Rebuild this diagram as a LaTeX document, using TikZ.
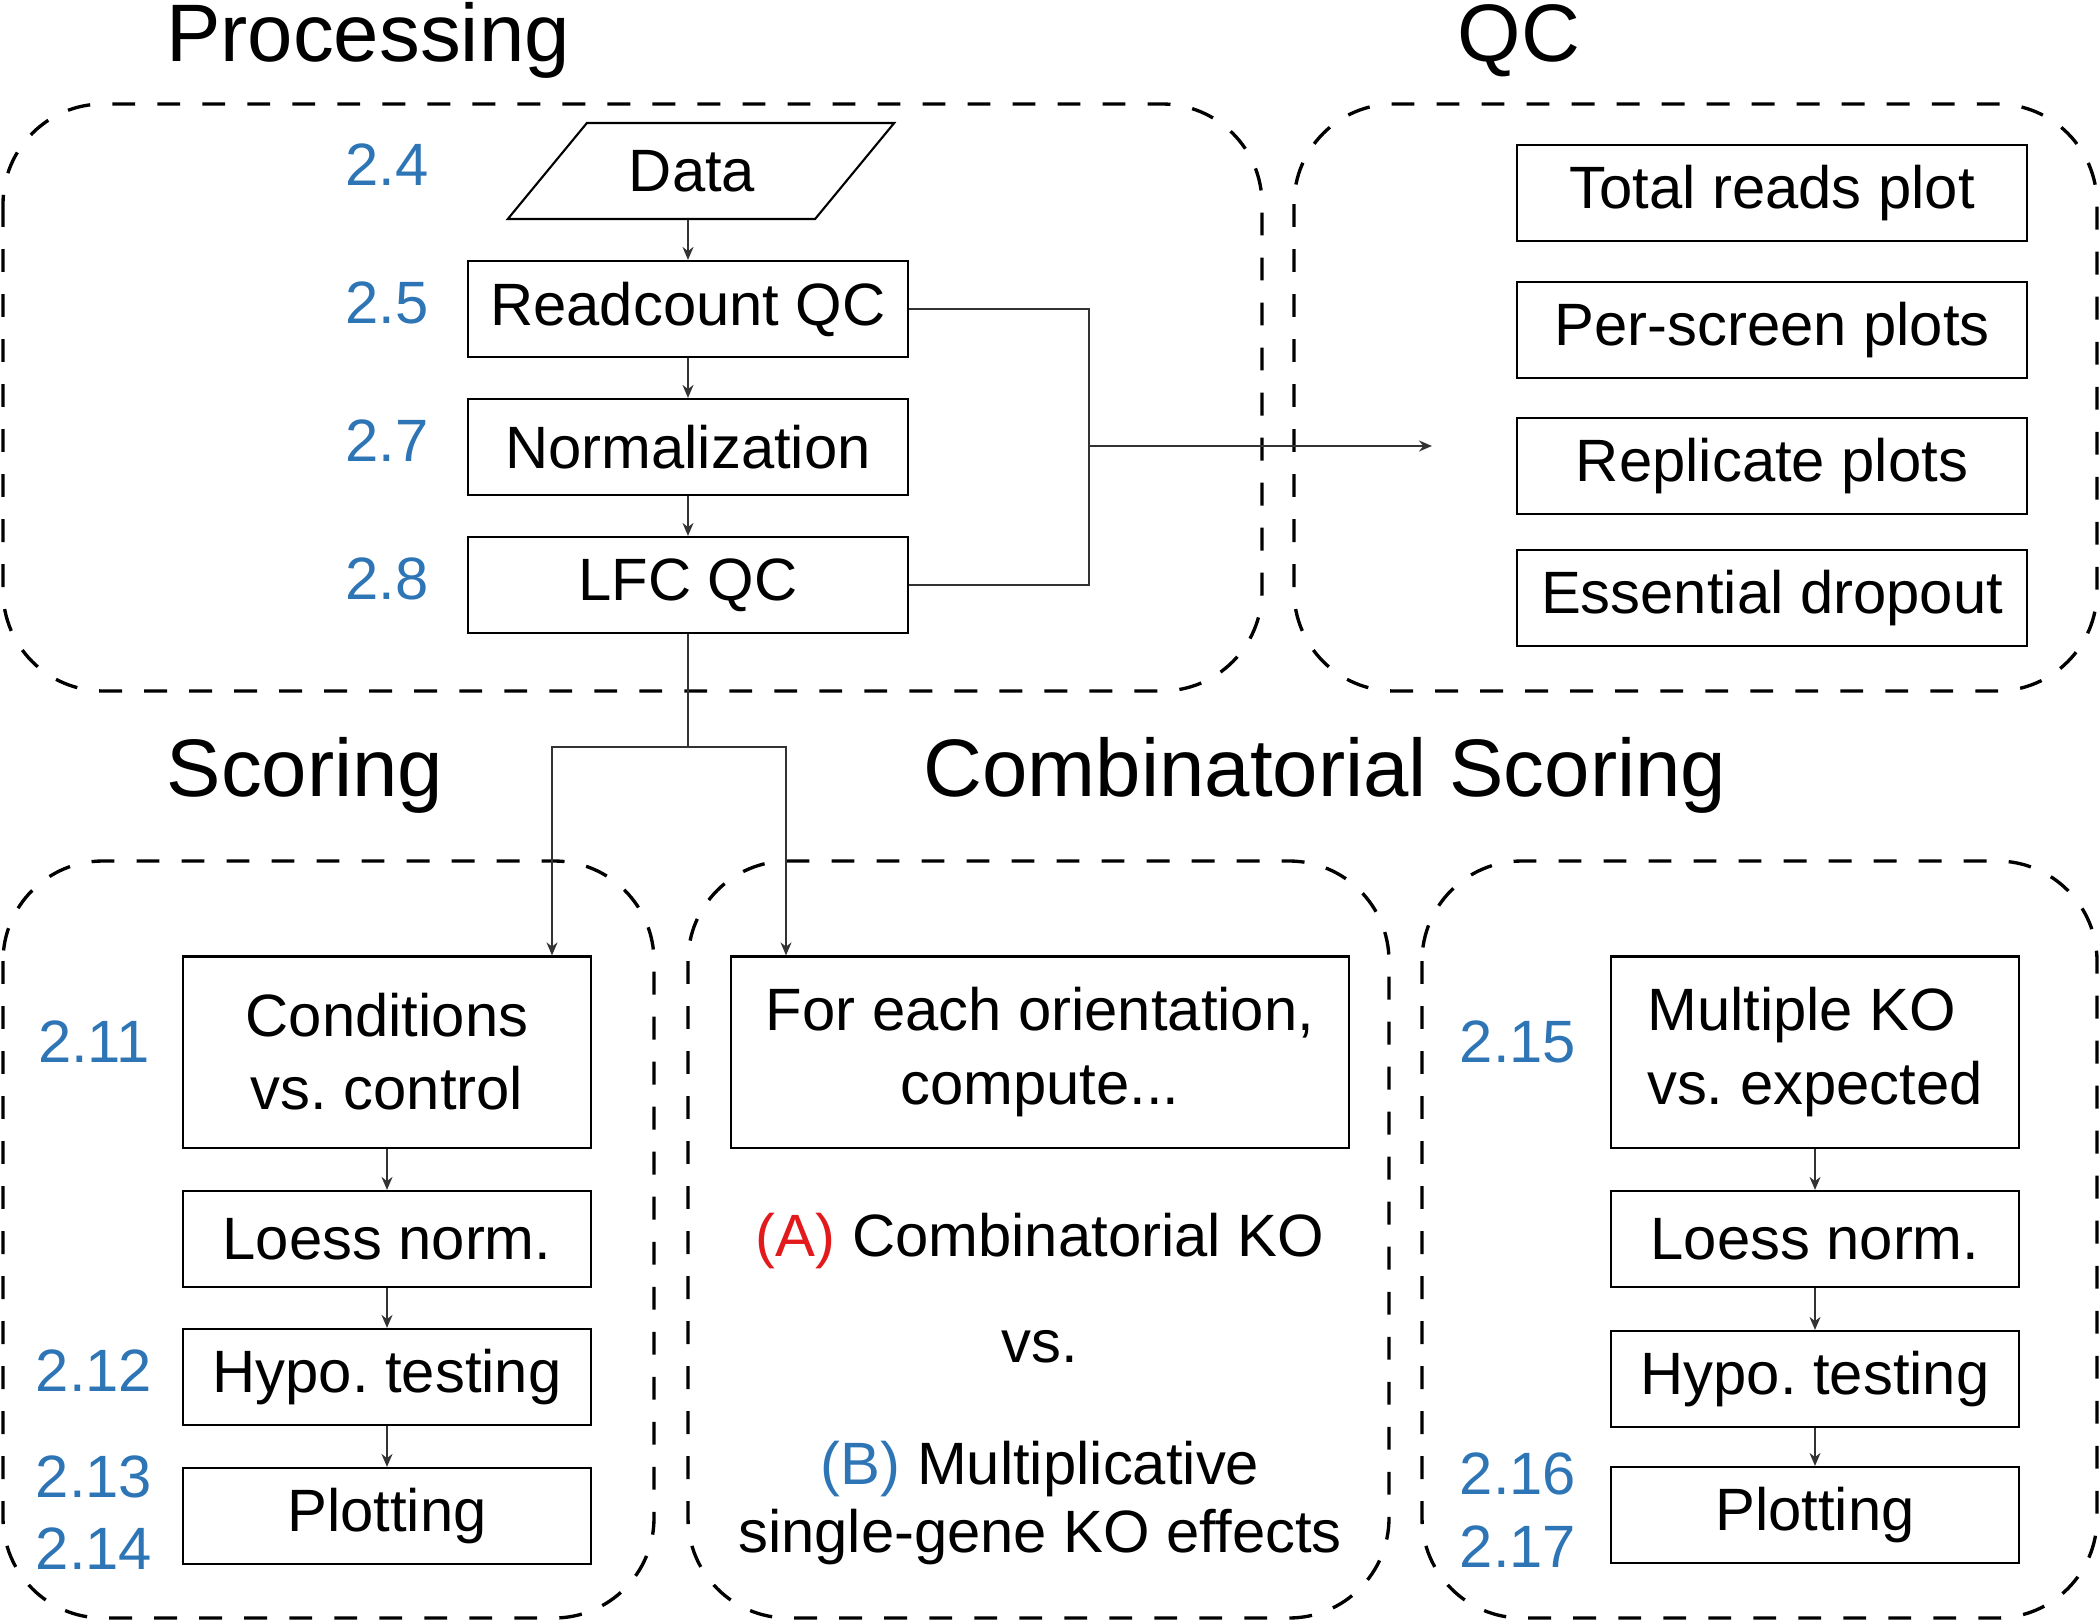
\documentclass[tikz,border=0pt]{standalone}
\usepackage{fontspec}
\setmainfont{Liberation Sans}
\usetikzlibrary{shapes.geometric,arrows.meta}
\definecolor{secblue}{HTML}{2E75B6}
\definecolor{labred}{HTML}{E31A1C}
\definecolor{wiregray}{HTML}{333333}

\begin{document}
\frenchspacing
\begin{tikzpicture}[x=0.01cm, y=-0.01cm,
  grp/.style={line width=0.95pt, dash pattern=on 6.5pt off 6.3pt, rounded corners=1cm},
  box/.style={draw, line width=0.6pt, minimum height=0.96cm, inner sep=0pt,
    font=\fontsize{17}{20.8}\selectfont},
  num/.style={text=secblue, inner sep=0pt, font=\fontsize{17}{20.8}\selectfont},
  txt/.style={inner sep=0pt, font=\fontsize{17}{20.8}\selectfont},
  title/.style={inner sep=0pt, font=\fontsize{23.2}{28}\selectfont},
  flow/.style={draw=wiregray, line width=0.45pt, -{Stealth[length=1.3mm,width=1.1mm]}},
  wire/.style={draw=wiregray, line width=0.45pt}]
\useasboundingbox (0,0) rectangle (2100,1622);

% dashed group frames
\draw [grp] (3,104) rectangle (1262,691);
\draw [grp] (1294,104) rectangle (2097,691);
\draw [grp] (3,861) rectangle (654,1618);
\draw [grp] (688,861) rectangle (1389,1618);
\draw [grp] (1422,861) rectangle (2097,1618);

% titles
\node [title, anchor=base] (tproc) at (368,62) {Processing};
\node [title, anchor=base] (tqc) at (1519,62) {QC};
\node [title, anchor=base] (tscore) at (305,797) {Scoring};
\node [title, anchor=base] (tcomb) at (1325,797) {Combinatorial Scoring};

% processing
\node [box, shape=trapezium, trapezium left angle=48, trapezium right angle=132,
  trapezium stretches=true, minimum width=3.88cm] (data) at (701,171) {\hspace*{-0.18cm}Data};
\node [box, minimum width=4.4cm] (rc) at (688,309) {Readcount QC};
\node [box, minimum width=4.4cm] (norm) at (688,447) {Normalization};
\node [box, minimum width=4.4cm] (lfc) at (688,585) {LFC QC};
\node [num, anchor=base] (s24) at (387,186) {2.4};
\node [num, anchor=base] (s25) at (387,324) {2.5};
\node [num, anchor=base] (s27) at (387,462) {2.7};
\node [num, anchor=base] (s28) at (387,600) {2.8};

% qc
\node [box, minimum width=5.09cm] (tot) at (1772,193) {Total reads plot};
\node [box, minimum width=5.09cm] (per) at (1772,330) {Per-screen plots};
\node [box, minimum width=5.09cm] (rep) at (1772,466) {Replicate plots};
\node [box, minimum width=5.09cm] (ess) at (1772,598) {Essential dropout};

% scoring
\node [box, minimum width=4.07cm, minimum height=1.91cm, align=center] (cond) at (387,1052) {Conditions\\vs. control};
\node [box, minimum width=4.07cm] (loessa) at (387,1239) {Loess norm.};
\node [box, minimum width=4.07cm] (hypoa) at (387,1377) {Hypo. testing};
\node [box, minimum width=4.07cm] (plota) at (387,1516) {Plotting};
\node [num, anchor=base] (s211) at (94,1062) {2.11};
\node [num, anchor=base] (s212) at (94,1391) {2.12};
\node [num, anchor=base] (s213) at (94,1497) {2.13};
\node [num, anchor=base] (s214) at (94,1569) {2.14};

% combinatorial scoring
\node [box, minimum width=6.17cm, minimum height=1.91cm, align=center] (each) at (1040,1052) {For each orientation,\\compute...};
\node [txt, anchor=base] (koa) at (1040,1256) {\textcolor{labred}{(A)} Combinatorial KO};
\node [txt, anchor=base] (vs) at (1040,1362) {vs.};
\node [txt, align=center, font=\fontsize{17}{19.5}\selectfont] (kob) at (1040,1503) {\textcolor{secblue}{(B)} Multiplicative\\single-gene KO effects};

% multiple ko
\node [box, minimum width=4.07cm, minimum height=1.91cm, align=left] (mko) at (1815,1052) {Multiple KO\\vs. expected};
\node [box, minimum width=4.07cm] (loessb) at (1815,1239) {Loess norm.};
\node [box, minimum width=4.07cm] (hypob) at (1815,1379) {Hypo. testing};
\node [box, minimum width=4.07cm] (plotb) at (1815,1515) {Plotting};
\node [num, anchor=base] (s215) at (1518,1062) {2.15};
\node [num, anchor=base] (s216) at (1518,1494) {2.16};
\node [num, anchor=base] (s217) at (1518,1567) {2.17};

% connectors
\coordinate (bus) at (1089,446);
\coordinate (qcin) at (1432,446);
\coordinate (lb) at (552,747);
\coordinate (rb) at (786,747);
\draw [flow] (rc.north |- data.south) -- (rc.north);
\draw [flow] (rc) -- (norm);
\draw [flow] (norm) -- (lfc);
\draw [wire] (rc.east) -| (bus |- lfc.east) -- (lfc.east);
\draw [flow] (bus) -- (qcin);
\draw [flow] (lfc.south) |- (lb) -- (lb |- cond.north);
\draw [flow] (lfc.south) |- (rb) -- (rb |- each.north);
\draw [flow] (cond) -- (loessa);
\draw [flow] (loessa) -- (hypoa);
\draw [flow] (hypoa) -- (plota);
\draw [flow] (mko) -- (loessb);
\draw [flow] (loessb) -- (hypob);
\draw [flow] (hypob) -- (plotb);
\end{tikzpicture}
\end{document}
